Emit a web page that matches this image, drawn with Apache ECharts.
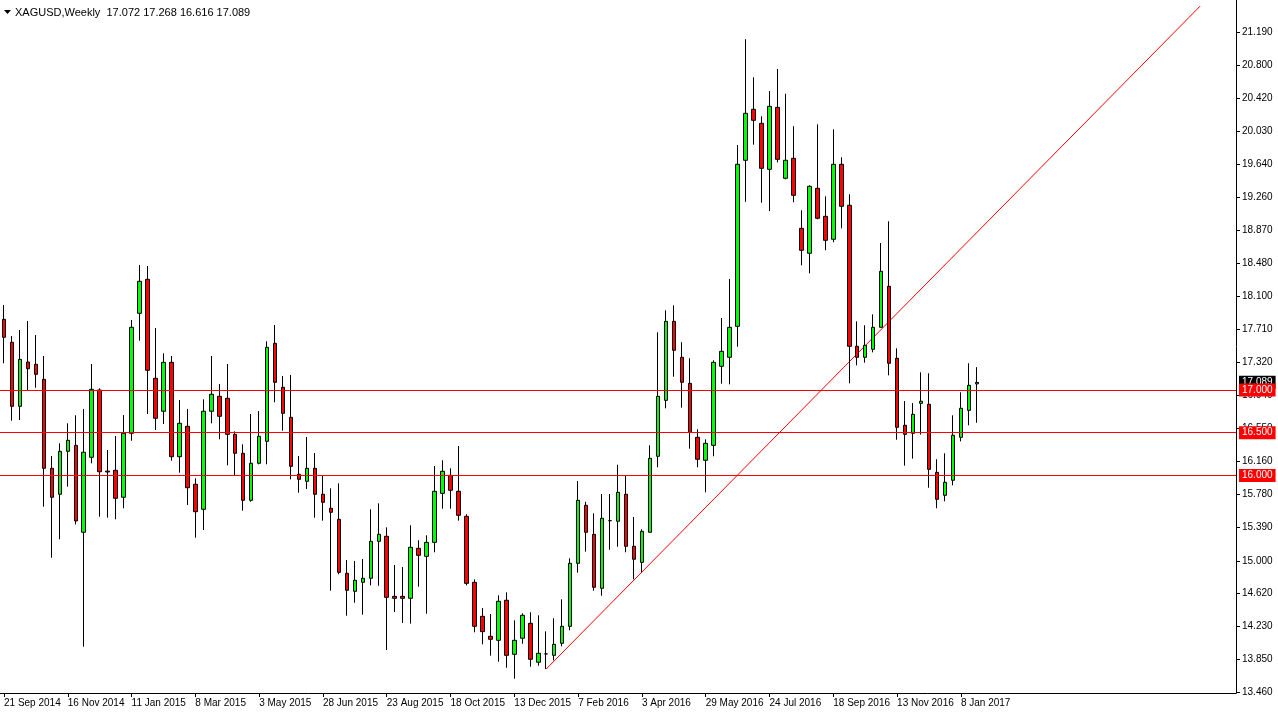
<!DOCTYPE html>
<html><head><meta charset="utf-8">
<script src="https://cdn.jsdelivr.net/npm/echarts@6/dist/echarts.min.js"></script>
<style>html,body{margin:0;padding:0;background:#fff}#c{width:1278px;height:716px}</style>
</head><body><div id="c"></div>
<script>
// ---- data (weekly XAGUSD candles, week 0 = 21 Sep 2014) ----
const opens = [17.828,17.559,16.809,17.328,17.301,17.125,16.083,15.779,16.282,16.352,15.334,16.212,17.000,16.050,16.060,15.744,16.493,17.898,18.296,17.137,16.751,17.324,16.219,16.575,15.896,15.603,16.751,16.926,16.903,16.481,16.259,15.708,16.142,16.399,17.547,17.032,16.680,16.013,15.931,16.083,15.779,15.615,15.486,14.854,14.643,14.748,14.795,15.228,15.287,14.584,14.584,14.561,15.146,15.052,15.216,15.790,16.001,15.814,15.521,14.748,14.350,14.116,14.069,14.538,13.905,14.093,14.268,13.812,13.910,13.893,14.034,14.233,14.971,15.650,15.310,14.678,15.470,15.463,15.779,15.170,14.982,15.334,16.224,16.879,17.804,17.383,17.078,16.446,16.177,16.352,17.278,17.383,17.746,19.690,20.287,20.123,19.584,20.310,19.479,19.713,18.893,18.601,19.362,19.034,18.765,19.643,19.163,17.512,17.383,17.477,17.734,18.214,17.371,16.587,16.493,16.844,16.833,16.036,15.767,15.943,16.446,16.762,17.072];
const highs = [17.995,17.632,17.703,17.808,17.644,17.398,16.227,16.376,16.610,16.704,16.778,17.304,17.020,16.297,16.461,16.707,17.820,18.464,18.452,17.726,17.430,17.398,16.883,16.778,15.966,16.891,17.398,17.070,17.304,16.516,16.364,16.719,16.754,17.570,17.761,17.164,17.176,16.227,16.450,16.262,16.001,15.849,15.907,15.009,14.998,15.021,15.603,15.673,15.392,14.951,14.927,15.416,15.240,15.299,16.110,16.177,16.083,16.344,15.545,14.783,14.447,14.377,14.596,14.631,14.303,14.385,14.397,14.362,14.174,14.327,14.549,15.029,15.934,15.692,15.556,15.782,15.782,16.125,16.001,15.513,15.369,16.352,17.676,17.933,17.992,17.559,17.371,16.540,16.423,17.348,17.843,18.300,19.869,21.108,20.661,20.205,20.501,20.759,20.470,20.088,19.104,19.397,20.111,19.268,20.053,19.725,19.292,17.804,17.758,17.886,18.721,18.976,17.488,16.871,16.848,17.207,17.196,16.189,16.259,16.704,16.973,17.313,17.268];
const lows = [17.313,16.641,16.649,17.000,17.027,15.634,15.036,15.252,15.868,15.427,13.994,16.142,15.516,15.505,15.486,15.615,16.406,17.577,16.719,16.532,16.602,16.172,16.032,15.653,15.271,15.361,16.610,16.423,16.118,15.993,15.587,15.692,16.130,16.130,16.856,16.523,15.954,15.797,15.841,15.505,15.470,14.650,14.842,14.357,14.509,14.369,14.713,14.708,13.955,14.401,14.272,14.264,14.697,14.381,15.100,15.610,15.610,15.470,14.713,14.163,14.022,13.889,13.818,13.748,13.619,14.029,13.760,13.772,13.733,13.835,13.998,14.186,14.861,15.107,14.650,14.591,15.130,15.165,15.100,14.783,14.865,15.334,16.095,16.786,17.156,16.793,16.313,16.095,15.802,16.224,17.074,17.067,17.507,19.205,19.873,19.194,19.095,19.666,19.467,19.198,18.460,18.366,18.999,18.636,18.730,18.893,17.078,17.289,17.320,17.441,17.734,17.172,16.418,16.114,16.196,16.477,15.856,15.615,15.697,15.884,16.399,16.587,16.616];
const closes = [17.617,16.809,17.359,17.249,17.184,16.083,15.744,16.282,16.411,15.466,16.271,17.008,16.043,16.040,15.732,16.493,17.734,18.273,17.231,16.669,17.324,16.219,16.610,15.856,15.575,16.751,16.950,16.692,16.481,16.259,15.708,16.142,16.458,17.500,17.090,16.727,16.106,15.954,16.083,15.779,15.685,15.568,14.865,14.655,14.772,14.795,15.228,15.310,14.572,14.561,14.561,15.158,15.064,15.216,15.814,16.048,15.826,15.533,14.736,14.233,14.170,14.081,14.526,13.893,14.069,14.362,13.847,13.917,13.910,14.022,14.233,14.971,15.708,15.334,14.690,15.498,15.470,15.802,15.170,15.018,15.345,16.200,16.926,17.804,17.465,17.090,16.505,16.189,16.376,17.324,17.453,17.734,19.643,20.240,20.158,19.596,20.322,19.701,19.690,19.280,18.636,19.385,19.011,18.753,19.643,19.151,17.512,17.383,17.523,17.734,18.390,17.313,16.563,16.481,16.715,16.868,16.071,15.720,15.919,16.470,16.786,17.055,17.089];
const levelLines = [17.000, 16.500, 16.000];
const currentPrice = 17.089;
const currentPriceLabel = '17.089';
const trendStart = { week: 68, price: 13.733 };
const trendEnd = { week: 150, price: 21.495 };
const xTickLabels = ['21 Sep 2014','16 Nov 2014','11 Jan 2015','8 Mar 2015','3 May 2015','28 Jun 2015','23 Aug 2015','18 Oct 2015','13 Dec 2015','7 Feb 2016','3 Apr 2016','29 May 2016','24 Jul 2016','18 Sep 2016','13 Nov 2016','8 Jan 2017'];
const yTickLabels = ['13.460','13.850','14.230','14.620','15.000','15.390','15.780','16.160','16.550','16.940','17.320','17.710','18.100','18.480','18.870','19.260','19.640','20.030','20.420','20.800','21.190'];
const titleText = 'XAGUSD,Weekly  17.072 17.268 16.616 17.089';

// ---- build ----
const TOTAL_WEEKS = 155; // includes empty space to the right
const MON = ['Jan','Feb','Mar','Apr','May','Jun','Jul','Aug','Sep','Oct','Nov','Dec'];
const categories = [];
for (let k = 0; k < TOTAL_WEEKS; k++) {
  const d = new Date(Date.UTC(2014, 8, 21) + k * 7 * 86400000);
  categories.push(d.getUTCDate() + ' ' + MON[d.getUTCMonth()] + ' ' + d.getUTCFullYear());
}
const candleData = opens.map((o, i) => [o, closes[i], lows[i], highs[i]]);
const yTickValues = yTickLabels.map(Number);
const FONT = 'Liberation Sans';
const boxLabel = { show: true, position: 'end', distance: 3, formatter: (p) => p.value.toFixed(3),
  color: '#fff', backgroundColor: '#ff0000', padding: [2, 3, 1, 3], fontSize: 10, fontFamily: FONT };

const chart = echarts.init(document.getElementById('c'), null, { renderer: 'canvas' });
chart.setOption({
  animation: false,
  backgroundColor: '#fff',
  grid: { left: -3.5, right: 42, top: 0, bottom: 23, containLabel: false },
  xAxis: {
    type: 'category',
    data: categories,
    boundaryGap: true,
    axisLine: { show: true, lineStyle: { color: '#000', width: 1 } },
    axisTick: { show: true, alignWithLabel: true, length: 4, lineStyle: { color: '#000' },
      interval: (i) => i % 8 === 0 && i / 8 < xTickLabels.length },
    axisLabel: {
      interval: (i) => i % 8 === 0 && i / 8 < xTickLabels.length,
      formatter: (v, i) => xTickLabels[i / 8] || '',
      align: 'left', color: '#000', fontSize: 10, fontFamily: FONT, margin: 5
    },
    splitLine: { show: false }
  },
  yAxis: {
    type: 'value',
    position: 'right',
    min: 13.452, max: 21.567,
    scale: true,
    axisLine: { show: true, lineStyle: { color: '#000', width: 1 } },
    axisTick: { show: true, length: 4, inside: false, lineStyle: { color: '#000' }, customValues: yTickValues },
    axisLabel: {
      customValues: yTickValues,
      formatter: (v) => { const i = yTickValues.indexOf(v); return i >= 0 ? yTickLabels[i] : ''; },
      color: '#000', fontSize: 10, fontFamily: FONT, margin: 6
    },
    splitLine: { show: false }
  },
  graphic: [
    { type: 'polygon', shape: { points: [[4, 10], [11, 10], [7.5, 14]] }, style: { fill: '#000' } },
    { type: 'text', x: 15, y: 7, style: { text: titleText, font: '11px "' + FONT + '"', fill: '#000' } }
  ],
  series: [
    {
      type: 'line',
      data: [[categories[trendStart.week], trendStart.price], [categories[trendEnd.week], trendEnd.price]],
      symbol: 'none',
      lineStyle: { color: '#ff0000', width: 1, type: 'solid' },
      z: 1
    },
    {
      type: 'candlestick',
      data: candleData,
      barWidth: 4,
      z: 3,
      itemStyle: { color: '#00ff00', color0: '#ff0000', borderColor: '#000', borderColor0: '#000', borderColorDoji: '#000', borderWidth: 1 },
      markLine: {
        silent: true, symbol: ['none', 'none'], animation: false,
        label: boxLabel,
        lineStyle: { color: '#ff0000', width: 1, type: 'solid' },
        data: [
          { yAxis: currentPrice, lineStyle: { color: 'rgba(0,0,0,0)' },
            label: { backgroundColor: '#000', formatter: () => currentPriceLabel } }
        ].concat(levelLines.map(v => ({ yAxis: v })))
      }
    }
  ]
});
</script></body></html>
